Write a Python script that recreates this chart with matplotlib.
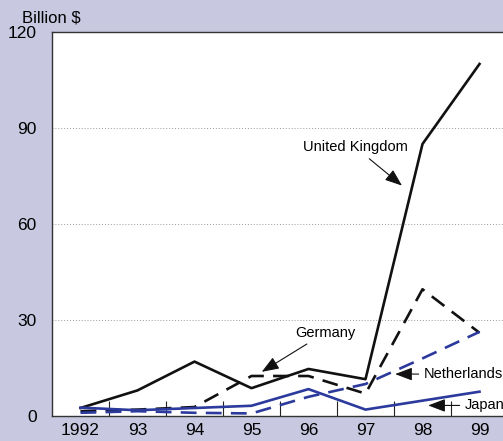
import matplotlib
matplotlib.use("Agg")
import matplotlib.pyplot as plt
from matplotlib.ticker import FixedLocator

# values (billion $)
years = ["1992", "93", "94", "95", "96", "97", "98", "99"]
uk = [2.5, 8, 17, 8.7, 14.7, 11.5, 85, 110]
germany = [1.5, 2, 2.8, 12.5, 12.5, 7, 39.6, 26]
netherlands = [1, 1.5, 1, 0.8, 6, 10, 18, 26.3]
japan = [2.6, 1.8, 2.5, 3.2, 8.4, 2, 4.8, 7.6]

bg = "#c8c8e1"
blue = "#2b3a9c"
dark = "#111111"

plt.rcParams["font.family"] = ["Liberation Sans", "DejaVu Sans"]

fig = plt.figure(figsize=(5.03, 4.41), dpi=100, facecolor=bg)
ax = fig.add_axes([52 / 503, 25 / 441, 456 / 503, 384 / 441])
ax.set_facecolor("white")

x = range(len(years))
ax.plot(x, uk, color=dark, lw=1.9)
ax.plot(x, germany, color=dark, lw=1.9, dashes=(6, 3.5))
ax.plot(x, netherlands, color=blue, lw=1.9, dashes=(6, 3.5))
ax.plot(x, japan, color=blue, lw=1.9)

ax.set_xlim(-0.5, 7.5)
ax.set_ylim(0, 120)
ax.set_xticks(list(x))
ax.set_xticklabels(years)
ax.xaxis.set_minor_locator(FixedLocator([i + 0.5 for i in range(7)]))
ax.tick_params(axis="x", which="major", length=0, pad=5, labelsize=12.5)
ax.tick_params(axis="x", which="minor", direction="in", length=11, width=0.8, color="#222222")
ax.set_yticks([0, 30, 60, 90, 120])
ax.tick_params(axis="y", length=0, pad=11, labelsize=12.5)
ax.grid(axis="y", linestyle=(0, (1, 2)), color="#999999", lw=0.7)

for s in ax.spines.values():
    s.set_color("#333333")
    s.set_linewidth(1.0)

fig.text(22 / 503, 1 - 18 / 441, "Billion $", fontsize=12, va="center", ha="left")

arrow = dict(arrowstyle="-|>,head_length=1.0,head_width=0.38", color=dark, lw=0.8,
             shrinkA=2, shrinkB=0)
ax.annotate("United Kingdom", xy=(5.64, 72), xytext=(4.82, 84), ha="center", va="center",
            fontsize=10.5, arrowprops=arrow, annotation_clip=False)
ax.annotate("Germany", xy=(3.18, 13.8), xytext=(4.29, 26), ha="center", va="center",
            fontsize=10.5, arrowprops=arrow, annotation_clip=False)
ax.annotate("Netherlands", xy=(5.52, 13.1), xytext=(6.03, 13.1), ha="left", va="center",
            fontsize=10.5, arrowprops=dict(arrow, relpos=(0, 0.5)),
            annotation_clip=False)
ax.annotate("Japan", xy=(6.1, 3.3), xytext=(6.75, 3.3), ha="left", va="center",
            fontsize=10.5, arrowprops=dict(arrow, relpos=(0, 0.5)),
            annotation_clip=False)

fig.savefig("out.png", dpi=100, facecolor=bg)
